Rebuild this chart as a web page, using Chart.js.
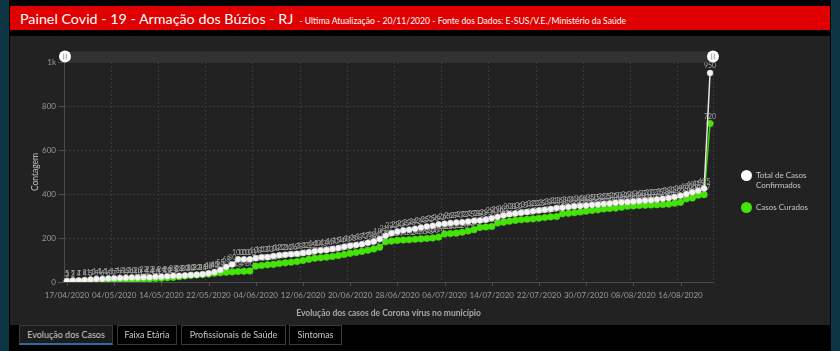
<!DOCTYPE html>
<html lang="pt-BR"><head><meta charset="utf-8">
<script src="https://cdn.jsdelivr.net/npm/chart.js@4.4.1/dist/chart.umd.min.js"></script>
<style>
*{box-sizing:border-box}
html,body{margin:0;padding:0;width:840px;height:351px;overflow:hidden;background:#000;font-family:Lato,'Open Sans',sans-serif;}
.edge{position:absolute;top:0;width:9px;height:351px;background:#0d3542;}
#titlebar{position:absolute;left:10px;top:6px;width:820px;height:24px;background:#e00000;color:#fff;white-space:nowrap;padding-left:10px;line-height:24px;}
#titlebar .big{font-size:14.3px;}
#titlebar .small{font-size:8.6px;margin-left:4px;}
#panel{position:absolute;left:10px;top:36px;width:820px;height:289px;background:#222;}
#wrap{position:absolute;left:0;top:0;width:840px;height:351px;}
#legend{position:absolute;left:741px;top:170px;color:#c8c8c8;font-size:8px;}
.li{position:relative;padding-left:15px;line-height:10px;margin-bottom:12px;}
.dot{position:absolute;left:0;top:0;width:11px;height:11px;border-radius:50%;}
.tab{position:absolute;top:325px;height:20px;border:1px solid #3a3a3a;color:#c8c8c8;font-size:9px;text-align:center;line-height:18px;background:#000;}
.tab.sel{background:#1c1c1c;border-bottom:2px solid #2f6aa0;}
</style>
</head>
<body>
<div class="edge" style="left:0"></div>
<div class="edge" style="left:831px"></div>
<div id="titlebar"><span class="big">Painel Covid - 19 - Armação dos Búzios - RJ</span><span class="small"> - Ultima Atualização - 20/11/2020 - Fonte dos Dados: E-SUS/V.E./Ministério da Saúde</span></div>
<div id="panel"></div>
<div id="wrap"><canvas id="c"></canvas></div>
<div id="legend">
  <div class="li"><span class="dot" style="background:#ffffff"></span>Total de Casos<br>Confirmados</div>
  <div class="li"><span class="dot" style="background:#45e30a;top:-0.5px"></span>Casos Curados</div>
</div>
<div class="tab sel" style="left:19px;width:94px">Evolução dos Casos</div>
<div class="tab" style="left:117px;width:60px">Faixa Etária</div>
<div class="tab" style="left:181px;width:105px">Profissionais de Saúde</div>
<div class="tab" style="left:289px;width:53px">Sintomas</div>
<script>
const dates = [
 '17/04/2020','20/04/2020','22/04/2020','23/04/2020','24/04/2020','27/04/2020','28/04/2020','30/04/2020',
 '04/05/2020','05/05/2020','06/05/2020','07/05/2020','08/05/2020','11/05/2020','12/05/2020','13/05/2020',
 '14/05/2020','15/05/2020','16/05/2020','17/05/2020','18/05/2020','19/05/2020','20/05/2020','21/05/2020',
 '22/05/2020','25/05/2020','26/05/2020','27/05/2020','28/05/2020','29/05/2020','01/06/2020','02/06/2020',
 '04/06/2020','05/06/2020','06/06/2020','07/06/2020','08/06/2020','09/06/2020','10/06/2020','11/06/2020',
 '12/06/2020','13/06/2020','14/06/2020','15/06/2020','16/06/2020','17/06/2020','18/06/2020','19/06/2020',
 '20/06/2020','21/06/2020','22/06/2020','23/06/2020','24/06/2020','25/06/2020','26/06/2020','27/06/2020',
 '28/06/2020','29/06/2020','30/06/2020','01/07/2020','02/07/2020','03/07/2020','04/07/2020','05/07/2020',
 '06/07/2020','07/07/2020','08/07/2020','09/07/2020','10/07/2020','11/07/2020','12/07/2020','13/07/2020',
 '14/07/2020','15/07/2020','16/07/2020','17/07/2020','18/07/2020','19/07/2020','20/07/2020','21/07/2020',
 '22/07/2020','23/07/2020','24/07/2020','25/07/2020','26/07/2020','27/07/2020','28/07/2020','29/07/2020',
 '30/07/2020','31/07/2020','01/08/2020','03/08/2020','04/08/2020','05/08/2020','06/08/2020','07/08/2020',
 '08/08/2020','09/08/2020','10/08/2020','11/08/2020','12/08/2020','13/08/2020','14/08/2020','15/08/2020',
 '16/08/2020','17/08/2020','18/08/2020','19/08/2020','20/08/2020','20/11/2020'
];
const totalConfirmados = [
 5,7,7,9,11,14,14,16,
 17,18,19,20,20,22,22,24,
 24,26,28,28,30,32,33,35,
 40,45,55,68,80,103,103,103,
 108,113,113,118,122,124,126,128,
 132,135,140,143,146,150,154,160,
 165,168,172,178,184,195,210,222,
 230,235,238,242,248,252,256,262,
 265,268,270,272,275,278,280,283,
 290,296,302,308,311,315,318,322,
 325,328,332,336,338,341,344,346,
 348,350,352,355,357,360,362,364,
 366,368,370,372,375,378,382,386,
 392,400,408,415,425,950
];
const casosCurados = [
 3,3,4,4,5,5,6,6,
 7,7,8,9,10,12,14,16,
 17,19,21,24,27,30,32,34,
 36,40,42,44,46,48,49,50,
 72,75,78,80,84,87,90,93,
 98,103,108,110,113,116,120,125,
 130,134,139,144,150,158,183,186,
 189,191,192,194,196,198,200,204,
 218,220,222,226,232,238,248,250,
 252,268,272,276,280,283,285,287,
 290,293,296,298,310,312,315,318,
 322,325,328,332,334,336,340,344,
 346,348,349,350,351,352,354,358,
 362,378,382,394,397,720
];
const yTicks = [0,200,400,600,800,1000];
const LABEL_EVERY = 8;

const gridCol = '#3a3a3a';
const axisCol = '#4d4d4d';

const valueLabels = {
  id: 'valueLabels',
  afterDatasetDraw(chart, args) {
    const ctx = chart.ctx;
    const ds = chart.data.datasets[args.index];
    ctx.save();
    ctx.font = '7px Lato';
    ctx.textAlign = 'center';
    ctx.textBaseline = 'bottom';
    ctx.fillStyle = '#a6a6a6';
    args.meta.data.forEach((pt, i) => {
      ctx.fillText(String(ds.data[i]), pt.x, pt.y - 3.5);
    });
    ctx.restore();
  }
};

const rangeBar = {
  id: 'rangeBar',
  afterDraw(chart) {
    const ctx = chart.ctx;
    const {left, right, top, bottom} = chart.chartArea;
    const xs = chart.scales.x;
    ctx.save();
    ctx.strokeStyle = axisCol;
    ctx.lineWidth = 1;
    chart.data.labels.forEach((l, i) => {
      if (i % LABEL_EVERY === 0) {
        const px = Math.round(xs.getPixelForValue(i)) + 0.5;
        ctx.beginPath(); ctx.moveTo(px, bottom); ctx.lineTo(px, bottom + 4); ctx.stroke();
      }
    });
    ctx.fillStyle = '#323232';
    ctx.fillRect(left, top - 10.5, right - left, 11);
    [left + 1, right].forEach(cx => {
      const cy = top - 5.5;
      ctx.beginPath(); ctx.arc(cx, cy, 6, 0, Math.PI * 2);
      ctx.fillStyle = '#ffffff'; ctx.fill();
      ctx.strokeStyle = '#8a8a8a'; ctx.lineWidth = 0.8;
      ctx.beginPath();
      ctx.moveTo(cx - 1.3, cy - 3); ctx.lineTo(cx - 1.3, cy + 3);
      ctx.moveTo(cx + 1.3, cy - 3); ctx.lineTo(cx + 1.3, cy + 3);
      ctx.stroke();
    });
    ctx.restore();
  }
};

new Chart(document.getElementById('c'), {
  type: 'line',
  data: {
    labels: dates,
    datasets: [
      {label: 'Total de Casos Confirmados', data: totalConfirmados, borderColor: '#e8e8e8', backgroundColor: '#f4f4f4',
       pointBorderColor: '#d0d0d0', pointBorderWidth: 0.5, pointRadius: 3, borderWidth: 1.5, tension: 0},
      {label: 'Casos Curados', data: casosCurados, borderColor: '#3fd400', backgroundColor: '#45e30a',
       pointBorderColor: '#45e30a', pointBorderWidth: 0.5, pointRadius: 3.3, borderWidth: 1.5, tension: 0}
    ]
  },
  options: {
    responsive: true, maintainAspectRatio: false, animation: false,
    layout: {padding: {left: 0, top: 62, right: 127, bottom: 0}},
    plugins: {legend: {display: false}, tooltip: {enabled: false}},
    scales: {
      x: {
        type: 'category', offset: true,
        afterFit(s) { s.height = 69; },
        grid: {offset: true, drawTicks: true, tickLength: 4, tickColor: 'rgba(0,0,0,0)',
               color: c => (c.index === undefined || c.index % LABEL_EVERY === 0) ? gridCol : 'rgba(0,0,0,0)'},
        border: {display: true, color: axisCol, width: 1, dash: [2, 2]},
        ticks: {autoSkip: false, maxRotation: 0, minRotation: 0, padding: 5, color: '#9a9a9a',
                font: {family: 'Lato', size: 8},
                callback(v, i) { return i % LABEL_EVERY === 0 ? this.getLabelForValue(v) : ''; }},
        title: {display: true, text: 'Evolução dos casos de Corona vírus no município', color: '#a8a8a8',
                font: {family: 'Lato', size: 8.5, weight: 'bold'}, padding: {top: 0, bottom: 33}}
      },
      y: {
        min: 0, max: 1000,
        afterFit(s) { s.width = 64; },
        afterBuildTicks(s) { s.ticks = yTicks.map(v => ({value: v})); },
        grid: {color: gridCol, tickColor: axisCol, tickLength: 6, drawTicks: true},
        border: {display: true, color: axisCol, width: 1, dash: [2, 2]},
        ticks: {padding: 2, color: '#9a9a9a', font: {family: 'Lato', size: 8},
                callback: v => v === 1000 ? '1k' : String(v)},
        title: {display: true, text: 'Contagem', color: '#c0c0c0', font: {family: 'Lato', size: 8.5},
                padding: {top: 30, bottom: 0}}
      }
    }
  },
  plugins: [valueLabels, rangeBar]
});
</script>
</body></html>
